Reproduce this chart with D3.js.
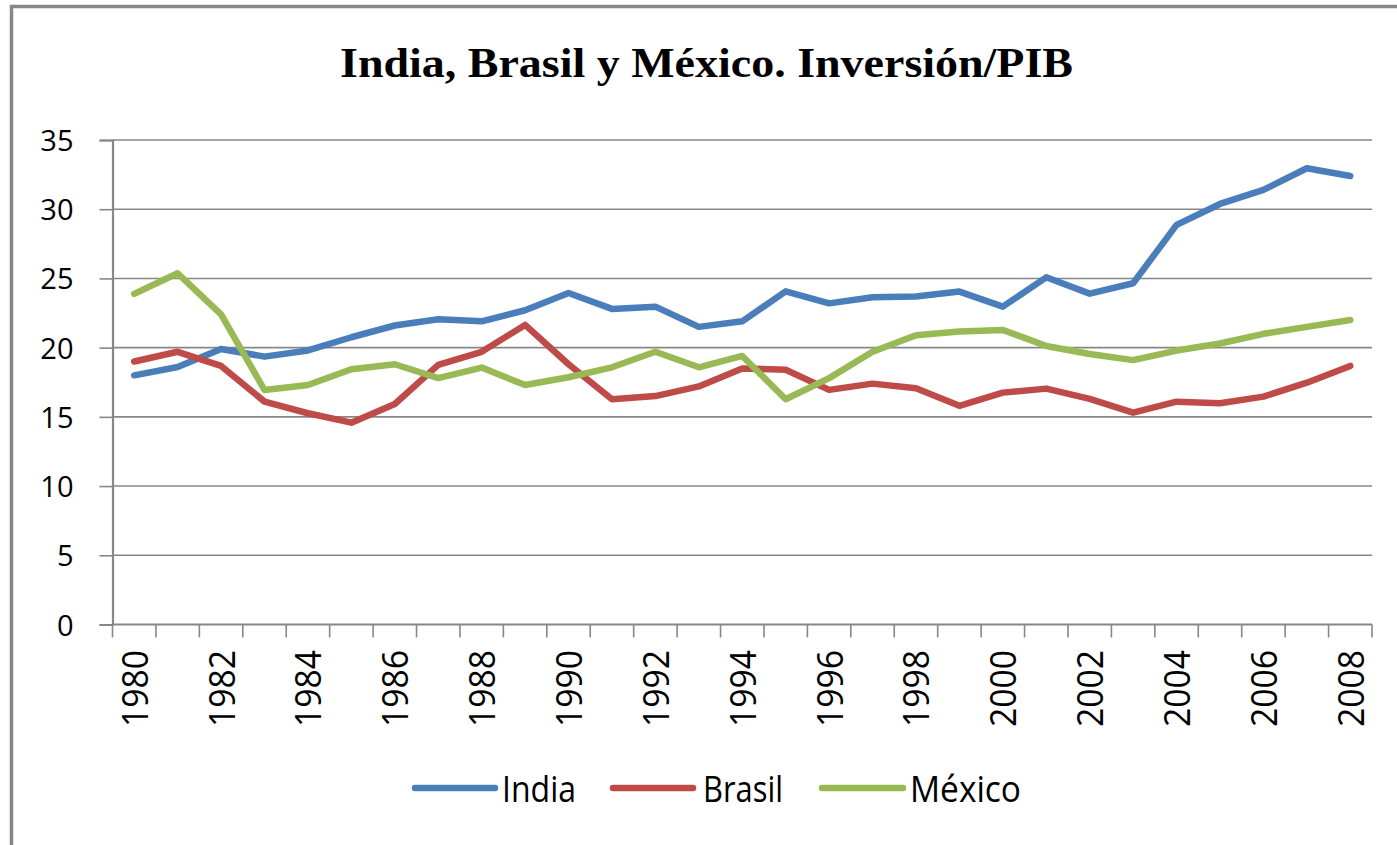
<!DOCTYPE html>
<html>
<head>
<meta charset="utf-8">
<script src="https://cdn.jsdelivr.net/npm/d3@7"></script>
<style>
  html, body { margin: 0; padding: 0; background: #fff; }
  svg { display: block; }
</style>
</head>
<body>
<svg id="chart" width="1397" height="845"></svg>
<script>
const years = d3.range(1980, 2009).map(String);
const india  = [18.0, 18.6, 19.9, 19.35, 19.8, 20.75, 21.6, 22.05, 21.9, 22.7,
                23.95, 22.8, 22.96, 21.5, 21.9, 24.07, 23.2, 23.64, 23.7, 24.05,
                22.96, 25.08, 23.9, 24.65, 28.87, 30.38, 31.4, 32.96, 32.4];
const brasil = [19.0, 19.7, 18.68, 16.1, 15.26, 14.58, 15.93, 18.75, 19.7, 21.64,
                18.8, 16.27, 16.5, 17.2, 18.5, 18.4, 16.95, 17.4, 17.07, 15.8,
                16.75, 17.04, 16.3, 15.3, 16.1, 15.98, 16.46, 17.47, 18.68];
const mexico = [23.88, 25.37, 22.4, 16.94, 17.3, 18.44, 18.8, 17.8, 18.56, 17.3,
                17.86, 18.58, 19.7, 18.58, 19.4, 16.27, 17.8, 19.7, 20.9, 21.16,
                21.28, 20.12, 19.54, 19.1, 19.79, 20.3, 21.0, 21.5, 22.0];
const seriesNames = ["India", "Brasil", "México"];
const seriesColors = ["#4A7EBB", "#BE4B48", "#98B954"];
const yTicks = [0, 5, 10, 15, 20, 25, 30, 35];
const title = "India, Brasil y México. Inversión/PIB";

(function () {
const series = [india, brasil, mexico].map((v, i) => ({name: seriesNames[i], color: seriesColors[i], values: v}));

const svg = d3.select("#chart");
const pLeft = 112.5, pRight = 1372, pTop = 140, pBottom = 624.5;

const x = d3.scaleBand().domain(years).range([pLeft, pRight]).padding(0);
const y = d3.scaleLinear().domain([0, 35]).range([pBottom, pTop]);

// frame
svg.append("rect").attr("x", 11.5).attr("y", 6.5).attr("width", 1420).attr("height", 900)
  .attr("fill", "none").attr("stroke", "#878787").attr("stroke-width", 3.5);

// title
svg.append("text").attr("x", 340).attr("y", 77)
  .attr("font-family", "'Liberation Serif', 'Times New Roman', serif")
  .attr("font-weight", "bold").attr("font-size", 42)
  .attr("textLength", 733).attr("lengthAdjust", "spacingAndGlyphs")
  .attr("fill", "#000").text(title);

// gridlines
svg.append("g").selectAll("line").data(yTicks.filter(d => d > 0)).join("line")
  .attr("x1", pLeft).attr("x2", pRight)
  .attr("y1", d => y(d)).attr("y2", d => y(d))
  .attr("stroke", "#878787").attr("stroke-width", 1.6);

// y axis
const yAxis = d3.axisLeft(y).tickValues(yTicks).tickSize(13).tickFormat(d3.format("d"));
const gy = svg.append("g").attr("transform", `translate(${pLeft},0)`).call(yAxis);
gy.select(".domain").attr("stroke", "#878787").attr("stroke-width", 2.2);
gy.selectAll(".tick line").attr("stroke", "#878787").attr("stroke-width", 1.6);
gy.selectAll(".tick text")
  .attr("x", -39).attr("dy", null).attr("y", 10.5)
  .attr("font-family", "'Open Sans', sans-serif").attr("font-size", 29)
  .attr("fill", "#000").attr("text-anchor", "end");

// x axis
const gx = svg.append("g").attr("transform", `translate(0,${pBottom})`);
gx.append("line").attr("x1", pLeft).attr("x2", pRight).attr("y1", 0).attr("y2", 0)
  .attr("stroke", "#878787").attr("stroke-width", 2.2);
const boundaries = years.map(d => x(d)).concat([pRight]);
gx.selectAll("line.tk").data(boundaries).join("line").attr("class", "tk")
  .attr("x1", d => d).attr("x2", d => d).attr("y1", 0).attr("y2", 13)
  .attr("stroke", "#878787").attr("stroke-width", 1.6);
gx.selectAll("text").data(years.filter((d, i) => i % 2 === 0)).join("text")
  .attr("transform", d => `translate(${x(d) + x.bandwidth() / 2 + 13.5},${650 - pBottom}) rotate(-90)`)
  .attr("text-anchor", "end")
  .attr("font-family", "'Open Sans', sans-serif").attr("font-size", 36)
  .attr("textLength", 77).attr("lengthAdjust", "spacingAndGlyphs")
  .attr("fill", "#000").text(d => d);

// lines
const line = d3.line().x((d, i) => x(years[i]) + x.bandwidth() / 2).y(d => y(d));
svg.append("g").selectAll("path").data(series).join("path")
  .attr("d", d => line(d.values))
  .attr("fill", "none").attr("stroke", d => d.color)
  .attr("stroke-width", 6.5).attr("stroke-linejoin", "round").attr("stroke-linecap", "round");

// legend
const legendItems = [
  {x1: 415, x2: 495, tx: 502, tw: 74},
  {x1: 613, x2: 693, tx: 703, tw: 80},
  {x1: 822, x2: 903, tx: 910, tw: 111}
];
const lg = svg.append("g");
series.forEach((s, i) => {
  const L = legendItems[i];
  lg.append("line").attr("x1", L.x1).attr("x2", L.x2).attr("y1", 788).attr("y2", 788)
    .attr("stroke", s.color).attr("stroke-width", 6.5).attr("stroke-linecap", "round");
  lg.append("text").attr("x", L.tx).attr("y", 801.5)
    .attr("font-family", "'Open Sans', sans-serif").attr("font-size", 36)
    .attr("textLength", L.tw).attr("lengthAdjust", "spacingAndGlyphs")
    .attr("fill", "#000").text(s.name);
});
})();
</script>
</body>
</html>
